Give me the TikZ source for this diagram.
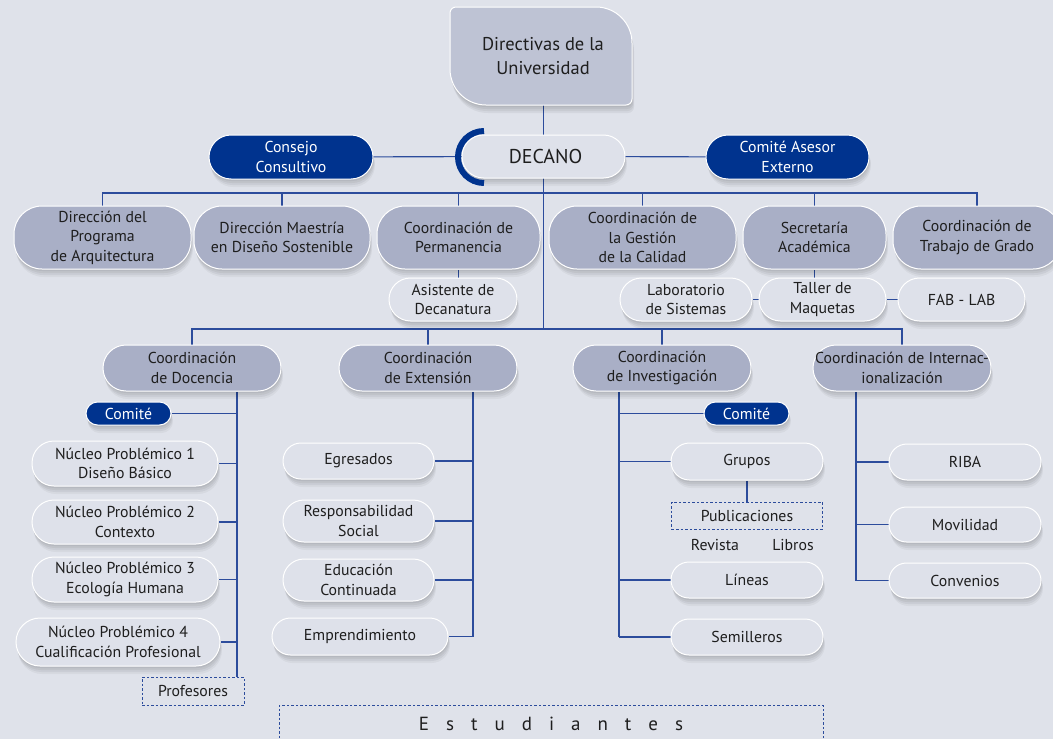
\documentclass[tikz,border=0pt]{standalone}
\usepackage{fontspec}
\setmainfont{PT Sans}
\usetikzlibrary{shadows}
\definecolor{bgc}{HTML}{DFE2EA}
\definecolor{grayf}{HTML}{A9AFC6}
\definecolor{dirf}{HTML}{BEC3D4}
\definecolor{lightf}{HTML}{DEE1EA}
\definecolor{navy}{HTML}{00338E}
\definecolor{linec}{HTML}{2C4C9C}
\definecolor{txt}{HTML}{1E1E1E}
\pgfdeclarelayer{back}
\pgfdeclarelayer{links}
\pgfsetlayers{back,links,main}
\newcommand{\lsp}{\hspace{17pt}}
\newcommand{\dirpath}{(456,7) -- (596,7) .. controls (615.9,7) and (632,23.1) .. (632,43)
  -- (632,99) .. controls (632,102.3) and (629.3,105) .. (626,105)
  -- (486,105) .. controls (466.1,105) and (450,88.9) .. (450,69)
  -- (450,13) .. controls (450,9.7) and (452.7,7) .. (456,7) -- cycle}
\tikzset{
  sh/.style={
    drop shadow={shadow xshift=0.5pt, shadow yshift=-2pt, opacity=0.05, fill=black},
    drop shadow={shadow xshift=1pt, shadow yshift=-4pt, opacity=0.05, fill=black},
    drop shadow={shadow xshift=1.5pt, shadow yshift=-6pt, opacity=0.05, fill=black},
    drop shadow={shadow xshift=2pt, shadow yshift=-8pt, opacity=0.04, fill=black}},
  box/.style={shape=rectangle, draw=white, line width=1pt, align=center, inner sep=0pt, text=txt, font=\fontsize{15.8}{19.5}\selectfont, sh},
  gbox/.style={box, fill=grayf},
  lbox/.style={box, fill=lightf},
  nbox/.style={box, fill=navy, text=white},
  dbox/.style={shape=rectangle, draw=linec, line width=1pt, dash pattern=on 2.5pt off 2pt, align=center, inner sep=0pt, text=txt, font=\fontsize{15.8}{19.5}\selectfont},
  link/.style={draw=linec, line width=1.1pt},
  plain/.style={inner sep=0pt, text=txt, font=\fontsize{15.8}{19.5}\selectfont},
}
\begin{document}
\begin{tikzpicture}[x=1pt,y=-1pt]
\begin{pgfonlayer}{back}
\fill[bgc] (0,0) rectangle (1053,739);
\end{pgfonlayer}
\useasboundingbox (0,0) rectangle (1053,739);

% Directivas shape with soft shadow
\foreach \dx/\dy in {0.5/2,1/4,1.5/6,2/8}
  \fill[black, opacity=0.05, shift={(\dx,\dy)}] \dirpath;
\path[fill=dirf, draw=white, line width=1pt] \dirpath;
\node[plain, font=\fontsize{18.5}{24}\selectfont, align=center, minimum width=182pt, minimum height=98pt] (dir) at (543,56) {Directivas de la\\Universidad};

% top row
\node[nbox, minimum width=164pt, minimum height=44pt, rounded corners=22pt] (cc) at (291,157) {Consejo\\Consultivo};
\node[nbox, minimum width=163pt, minimum height=44pt, rounded corners=22pt] (cae) at (787.5,157) {Comité Asesor\\Externo};
\node[lbox, minimum width=163pt, minimum height=43pt, rounded corners=21.5pt, font=\fontsize{20}{24}\selectfont] (dec) at (543.5,156.5) {\hspace{4pt}DECANO};
\draw[navy, line width=6pt] (484,131) .. controls (469.6,131) and (458,142.6) .. (458,157) .. controls (458,171.4) and (469.6,183) .. (484,183);

% row 2
\node[gbox, minimum width=177pt, minimum height=63pt, rounded corners=28pt] (dp) at (102.5,237.5) {Dirección del\\Programa\\de Arquitectura};
\node[gbox, minimum width=176pt, minimum height=63pt, rounded corners=28pt] (dm) at (282,237.5) {Dirección Maestría\\en Diseño Sostenible};
\node[gbox, minimum width=163pt, minimum height=63pt, rounded corners=28pt] (cp) at (458.5,237.5) {Coordinación de\\Permanencia};
\node[gbox, minimum width=187pt, minimum height=63pt, rounded corners=28pt] (gc) at (642.5,237.5) {Coordinación de\\la Gestión\\de la Calidad};
\node[gbox, minimum width=143pt, minimum height=63pt, rounded corners=28pt] (sa) at (814.5,237.5) {Secretaría\\Académica};
\node[gbox, minimum width=168pt, minimum height=63pt, rounded corners=28pt] (tg) at (977,237.5) {Coordinación de\\Trabajo de Grado};

% row 3
\node[lbox, minimum width=128pt, minimum height=43pt, rounded corners=21.5pt] (ad) at (453,299.5) {Asistente de\\Decanatura};
\node[lbox, minimum width=132pt, minimum height=43pt, rounded corners=21.5pt] (ls) at (686,299.5) {Laboratorio\\de Sistemas};
\node[lbox, minimum width=127pt, minimum height=43pt, rounded corners=21.5pt] (tm) at (822.5,299.5) {Taller de\\Maquetas};
\node[lbox, minimum width=127pt, minimum height=43pt, rounded corners=21.5pt] (fl) at (961.5,299.5) {FAB - LAB};

% row 4
\node[gbox, minimum width=178pt, minimum height=46pt, rounded corners=23pt] (doc) at (192,368) {Coordinación\\de Docencia};
\node[gbox, minimum width=178pt, minimum height=46pt, rounded corners=23pt] (ext) at (428,368) {Coordinación\\de Extensión};
\node[gbox, minimum width=178pt, minimum height=46pt, rounded corners=23pt] (inv) at (662,368) {Coordinación\\de Investigación};
\node[gbox, minimum width=178pt, minimum height=46pt, rounded corners=23pt] (int) at (902,368) {Coordinación de Internac-\\ionalización};

% Docencia
\node[nbox, minimum width=85pt, minimum height=23pt, rounded corners=11.5pt] (cmd) at (128.5,413.5) {Comité};
\node[lbox, minimum width=186pt, minimum height=45pt, rounded corners=22pt] (np1) at (125,463.5) {Núcleo Problémico 1\\Diseño Básico};
\node[lbox, minimum width=186pt, minimum height=44pt, rounded corners=22pt] (np2) at (125,522) {Núcleo Problémico 2\\Contexto};
\node[lbox, minimum width=186pt, minimum height=45pt, rounded corners=22pt] (np3) at (125,579.5) {Núcleo Problémico 3\\Ecología Humana};
\node[lbox, minimum width=204pt, minimum height=48pt, rounded corners=24pt] (np4) at (118,642) {Núcleo Problémico 4\\Cualificación Profesional};
\node[dbox, minimum width=102pt, minimum height=28pt] (prof) at (193,691) {Profesores};

% Extension
\node[lbox, minimum width=151pt, minimum height=36pt, rounded corners=18pt] (eg) at (358.5,461) {Egresados};
\node[lbox, minimum width=151pt, minimum height=42pt, rounded corners=21pt] (rs) at (358.5,521) {Responsabilidad\\Social};
\node[lbox, minimum width=151pt, minimum height=42pt, rounded corners=21pt] (ec) at (358.5,580) {Educación\\Continuada};
\node[lbox, minimum width=176pt, minimum height=37pt, rounded corners=18.5pt] (em) at (360,636.5) {Emprendimiento};

% Investigacion
\node[nbox, minimum width=85pt, minimum height=23pt, rounded corners=11.5pt] (cmi) at (746.5,413.5) {Comité};
\node[lbox, minimum width=152pt, minimum height=37pt, rounded corners=18.5pt] (gr) at (747,461.5) {Grupos};
\node[dbox, minimum width=151pt, minimum height=27pt] (pub) at (747,515.5) {Publicaciones};
\node[plain] (rev) at (715,545) {Revista};
\node[plain] (lib) at (793,545) {Libros};
\node[lbox, minimum width=152pt, minimum height=36pt, rounded corners=18pt] (li) at (747,580) {Líneas};
\node[lbox, minimum width=152pt, minimum height=36pt, rounded corners=18pt] (sem) at (747,637) {Semilleros};

% Internacionalizacion
\node[lbox, minimum width=152pt, minimum height=36pt, rounded corners=18pt] (riba) at (965,462) {RIBA};
\node[lbox, minimum width=152pt, minimum height=35pt, rounded corners=17.5pt] (mov) at (965,524.5) {Movilidad};
\node[lbox, minimum width=152pt, minimum height=35pt, rounded corners=17.5pt] (conv) at (965,580.5) {Convenios};

% Estudiantes
\node[dbox, minimum width=544pt, minimum height=38pt, font=\fontsize{19}{22}\selectfont] (est) at (551,724) {E\lsp s\lsp t\lsp u\lsp d\lsp i\lsp a\lsp n\lsp t\lsp e\lsp s};

% spines / buses
\coordinate (busA) at (0,193);
\coordinate (busB) at (0,329);
\coordinate (spD) at (237,0);
\coordinate (spE) at (473,0);
\coordinate (spI) at (619,0);
\coordinate (spN) at (856,0);

\begin{pgfonlayer}{links}
\draw[link] (dir.south -| dec.center) -- (dec.center);
\draw[link] (dec.center) -- (dec.center |- busB);
\draw[link] (cc.center) -- (dec.center);
\draw[link] (dec.center) -- (cae.center);
\draw[link] (dp.north) -- (dp.north |- busA) -- (tg.north |- busA) -- (tg.north);
\foreach \n in {dm,cp,gc,sa} \draw[link] (\n.north) -- (\n.north |- busA);
\draw[link] (cp.south) -- (cp.south |- ad.north);
\draw[link] (sa.south) -- (sa.south |- tm.north);
\draw[link] (ls.east) -- (tm.west);
\draw[link] (tm.east) -- (fl.west);
\draw[link] (doc.north) -- (doc.north |- busB) -- (int.north |- busB) -- (int.north);
\draw[link] (ext.north) -- (ext.north |- busB);
\draw[link] (inv.north) -- (inv.north |- busB);
% Docencia
\draw[link] (doc.south -| spD) -- (prof.north -| spD);
\foreach \n in {cmd,np1,np2,np3,np4} \draw[link] (\n.east) -- (\n.east -| spD);
% Extension
\draw[link] (ext.south -| spE) -- (em.east -| spE);
\foreach \n in {eg,rs,ec,em} \draw[link] (\n.east) -- (\n.east -| spE);
% Investigacion
\draw[link] (inv.south -| spI) -- (sem.west -| spI);
\foreach \n in {cmi,gr,li,sem} \draw[link] (\n.west) -- (\n.west -| spI);
\draw[link] (gr.south) -- (pub.north);
% Internacionalizacion
\draw[link] (int.south -| spN) -- (conv.west -| spN);
\foreach \n in {riba,mov,conv} \draw[link] (\n.west) -- (\n.west -| spN);
\end{pgfonlayer}
\end{tikzpicture}
\end{document}
